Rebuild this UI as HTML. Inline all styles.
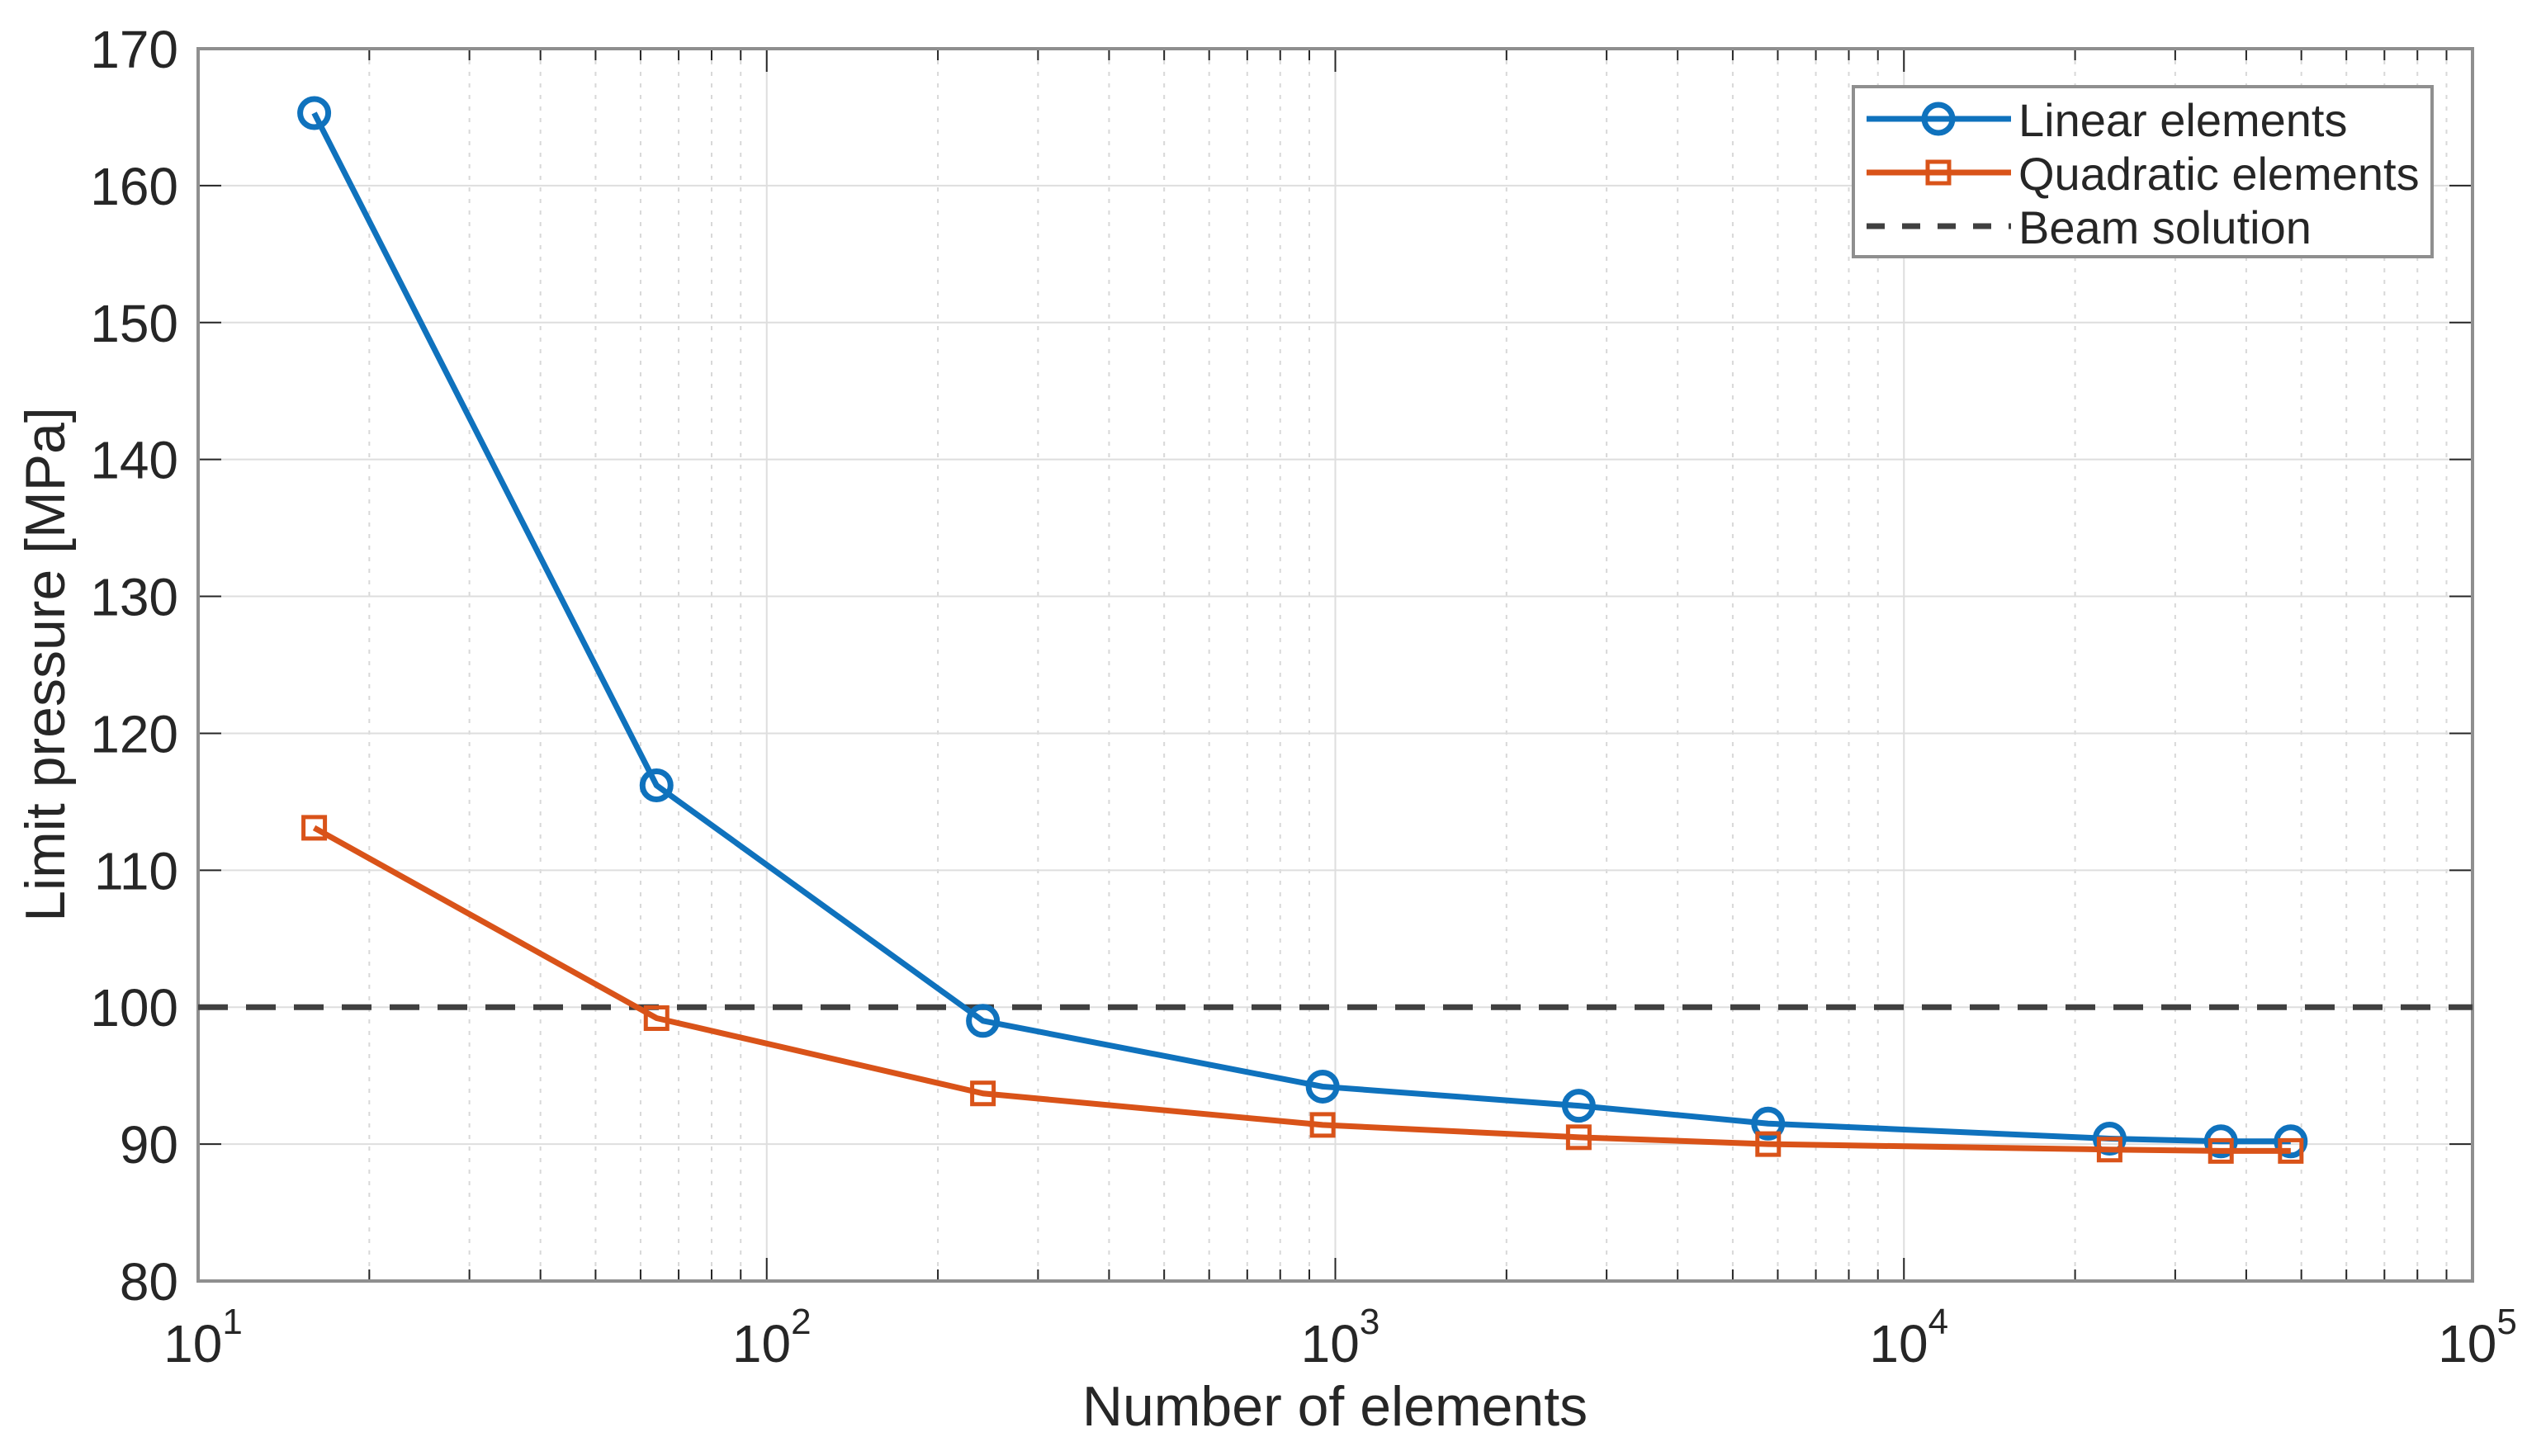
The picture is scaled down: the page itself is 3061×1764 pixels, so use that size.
<!DOCTYPE html>
<html><head><meta charset="utf-8"><style>
html,body{margin:0;padding:0;background:#fff}
svg{display:block;font-family:"Liberation Sans",sans-serif}
</style></head><body>
<svg id="chart" width="3061" height="1764" viewBox="0 0 3061 1764" xmlns="http://www.w3.org/2000/svg">
<rect width="3061" height="1764" fill="#fff"/>
<g id="grid"></g>
<g id="axes"></g>
<g id="series"></g>
<g id="legend"></g>
<text x="1617" y="1727" font-size="68" text-anchor="middle" fill="#262626">Number of elements</text>
<text transform="translate(78,805) rotate(-90)" font-size="68" text-anchor="middle" fill="#262626">Limit pressure [MPa]</text>
</svg>
<script>
const elements = [16, 64, 240, 950, 2680, 5770, 23000, 36100, 47900];
const linearValues = [165.3, 116.2, 99.0, 94.2, 92.8, 91.5, 90.4, 90.2, 90.2];
const quadraticValues = [113.1, 99.2, 93.7, 91.4, 90.5, 90.0, 89.6, 89.5, 89.5];
const beamValue = 100;
const yTicks = [80, 90, 100, 110, 120, 130, 140, 150, 160, 170];
const xDecades = [1, 2, 3, 4, 5];

const NS = "http://www.w3.org/2000/svg";
const L = 240, R = 2995, T = 59, B = 1552;
const xMin = 1, xMax = 5, yMin = 80, yMax = 170;
const xs = v => L + (Math.log10(v) - xMin) / (xMax - xMin) * (R - L);
const ys = v => B - (v - yMin) / (yMax - yMin) * (B - T);
function mk(tag, attrs, parent) {
  const e = document.createElementNS(NS, tag);
  for (const k in attrs) e.setAttribute(k, attrs[k]);
  parent.appendChild(e);
  return e;
}
const grid = document.getElementById('grid');
const axes = document.getElementById('axes');
const series = document.getElementById('series');
const legend = document.getElementById('legend');

for (let d = xMin; d < xMax; d++) {
  for (let m = 2; m <= 9; m++) {
    const x = xs(m * Math.pow(10, d));
    const g = mk('line', {x1: x, x2: x, y1: T, y2: B, stroke: '#d8d8d8', 'stroke-width': 2, 'stroke-dasharray': '5 9'}, grid);
    
    
    const t1 = mk('line', {x1: x, x2: x, y1: B, y2: B - 14, stroke: '#262626', 'stroke-width': 2}, axes);
    
    
    const t2 = mk('line', {x1: x, x2: x, y1: T, y2: T + 14, stroke: '#262626', 'stroke-width': 2}, axes);
    
    
  }
}
xDecades.forEach(d => {
  const x = xs(Math.pow(10, d));
  const g = mk('line', {x1: x, x2: x, y1: T, y2: B, stroke: '#dedede', 'stroke-width': 2}, grid);
  
  
  const t1 = mk('line', {x1: x, x2: x, y1: B, y2: B - 28, stroke: '#262626', 'stroke-width': 2}, axes);
  
  
  const t2 = mk('line', {x1: x, x2: x, y1: T, y2: T + 28, stroke: '#262626', 'stroke-width': 2}, axes);
  
  
  const tx = mk('text', {x: x + 6, y: B + 98, 'font-size': 64, 'text-anchor': 'middle', fill: '#262626'}, axes);
  
  
  tx.textContent = '10';
  const sup = mk('tspan', {'font-size': 44, dy: -34}, tx);
  sup.textContent = d;
});
yTicks.forEach(v => {
  const y = ys(v);
  if (v !== yMin && v !== yMax) {
    const g = mk('line', {x1: L, x2: R, y1: y, y2: y, stroke: '#dedede', 'stroke-width': 2}, grid);
    
    
  }
  const t1 = mk('line', {x1: L, x2: L + 28, y1: y, y2: y, stroke: '#262626', 'stroke-width': 2}, axes);
  
  
  const t2 = mk('line', {x1: R, x2: R - 28, y1: y, y2: y, stroke: '#262626', 'stroke-width': 2}, axes);
  
  
  const tx = mk('text', {x: L - 24, y: y + 23, 'font-size': 64, 'text-anchor': 'end', fill: '#262626'}, axes);
  
  
  tx.textContent = v;
});
const frame = mk('rect', {x: L, y: T, width: R - L, height: B - T, fill: 'none', stroke: '#8f8f8f', 'stroke-width': 4}, axes);



const beam = mk('line', {x1: L, x2: R, y1: ys(beamValue), y2: ys(beamValue), stroke: '#404040', 'stroke-width': 7, 'stroke-dasharray': '36 22'}, series);



function drawSeries(vals, color, marker, name) {
  const pts = elements.map((e, i) => xs(e) + ',' + ys(vals[i])).join(' ');
  const pl = mk('polyline', {points: pts, fill: 'none', stroke: color, 'stroke-width': 7, 'stroke-linejoin': 'round'}, series);
  
  
  elements.forEach((e, i) => {
    const cx = xs(e), cy = ys(vals[i]);
    let m;
    if (marker === 'o') m = mk('circle', {cx: cx, cy: cy, r: 17, fill: 'none', stroke: color, 'stroke-width': 7}, series);
    else m = mk('rect', {x: cx - 13, y: cy - 13, width: 26, height: 26, fill: 'none', stroke: color, 'stroke-width': 5}, series);
    
    
  });
}
drawSeries(linearValues, '#0f72bd', 'o', 'linear-elements');
drawSeries(quadraticValues, '#d95319', 's', 'quadratic-elements');

const lb = mk('rect', {x: 2245, y: 105, width: 701, height: 206, fill: '#fff', stroke: '#8f8f8f', 'stroke-width': 4}, legend);


const entries = [
  {label: 'Linear elements', color: '#0f72bd', m: 'o', y: 144, n: 'legend-entry-linear'},
  {label: 'Quadratic elements', color: '#d95319', m: 's', y: 209, n: 'legend-entry-quadratic'},
  {label: 'Beam solution', color: '#404040', m: 'd', y: 274, n: 'legend-entry-beam'}
];
entries.forEach(en => {
  const g = mk('g', {}, legend);
  
  
  mk('line', {x1: 2261, x2: 2436, y1: en.y, y2: en.y, stroke: en.color, 'stroke-width': 7, 'stroke-dasharray': en.m === 'd' ? '22 21' : 'none'}, g);
  if (en.m === 'o') mk('circle', {cx: 2348, cy: en.y, r: 17, fill: 'none', stroke: en.color, 'stroke-width': 7}, g);
  if (en.m === 's') mk('rect', {x: 2335, y: en.y - 13, width: 26, height: 26, fill: 'none', stroke: en.color, 'stroke-width': 5}, g);
  const t = mk('text', {x: 2445, y: en.y + 21, 'font-size': 56, fill: '#262626'}, g);
  t.textContent = en.label;
});
</script>
</body></html>
